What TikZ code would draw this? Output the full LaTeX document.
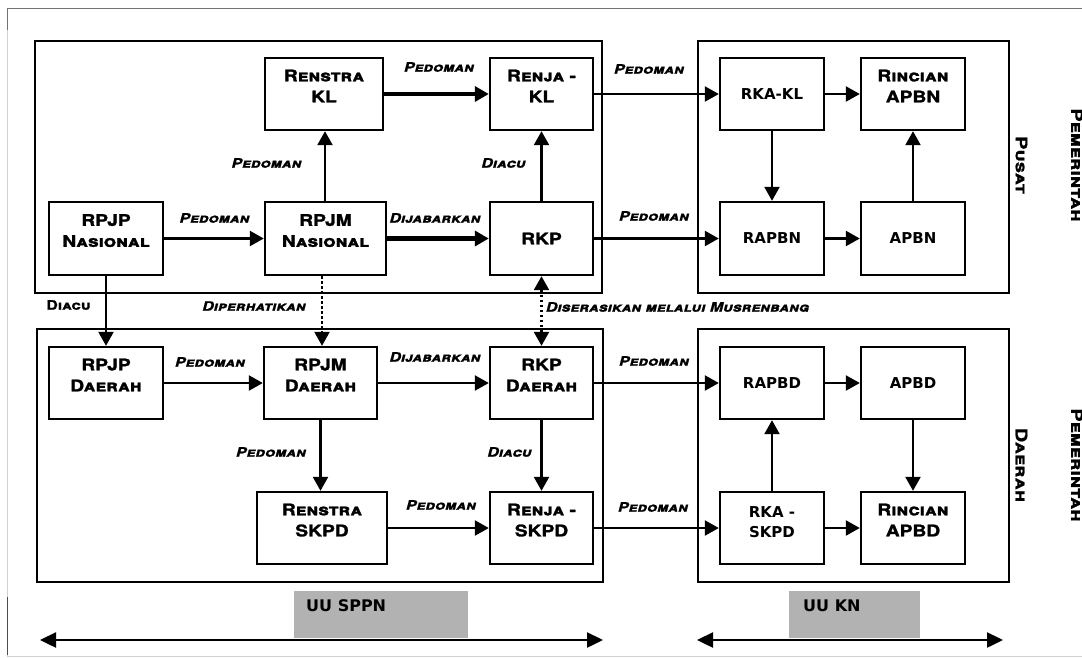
\documentclass[tikz,border=0pt]{standalone}
\usepackage{fontspec}
\usetikzlibrary{arrows.meta}
\newfontfamily\cop[FakeStretch=1.2,FakeBold=1.6,Letters=SmallCaps]{TeX Gyre Heros}
\newfontfamily\lblfont[FakeStretch=1.22,FakeBold=1,Letters=SmallCaps]{TeX Gyre Heros}
\newfontfamily\sidefont[FakeStretch=1.25,FakeBold=1,Letters=SmallCaps]{TeX Gyre Heros}
\newfontfamily\sansb{DejaVu Sans}
\tikzset{
  frame/.style={draw, line width=2.4pt},
  box/.style={draw, line width=2.4pt, inner sep=0pt, align=center, minimum height=72pt},
  cbox/.style={box, font=\cop\bfseries\fontsize{16}{21}\selectfont},
  sbox/.style={box, font=\sansb\bfseries\fontsize{15}{26}\selectfont},
  lbl/.style={font=\lblfont\bfseries\itshape\fontsize{13}{15}\selectfont, inner sep=0pt},
  lblup/.style={font=\lblfont\bfseries\fontsize{13}{15}\selectfont, inner sep=0pt},
  arr/.style={line width=2.4pt, -{Triangle[length=14pt,width=15pt]}},
  tarr/.style={arr, line width=4.5pt},
  dotarr/.style={arr, dash pattern=on 2.4pt off 2.6pt},
  darr/.style={line width=2.4pt, {Triangle[length=16pt,width=15pt]}-{Triangle[length=16pt,width=15pt]}},
  side/.style={rotate=-90, font=\sidefont\bfseries\fontsize{16}{18}\selectfont, inner sep=0pt},
  law/.style={fill=black!30, inner sep=0pt},
  lawtxt/.style={font=\sansb\bfseries\fontsize{16}{18}\selectfont, inner sep=0pt, anchor=west}
}
\begin{document}
\begin{tikzpicture}[x=1pt,y=-1pt]
\useasboundingbox (0,0) rectangle (1082,657);
% outer frame
\draw[black!18, line width=0.8pt] (7,8) -- (7,656) -- (1090,656);
\draw[black!55, line width=0.8pt] (1090,8) -- (7,8) -- (7,30);
\draw[black!70, line width=0.8pt] (7,597) -- (7,655);
% group frames
\draw[frame] (35,41) rectangle (602,293);
\draw[frame] (698,41) rectangle (1009,293);
\draw[frame] (37,329) rectangle (603,582);
\draw[frame] (698,329) rectangle (1009,582);
% top nodes
\node[cbox, minimum width=118pt] (renstrakl) at (324,94) {Renstra\\KL\\[-5pt]\mbox{}};
\node[cbox, minimum width=103pt] (renjakl) at (541.5,94) {Renja -\\KL\\[-5pt]\mbox{}};
\node[cbox, minimum width=114pt, minimum height=73pt] (rpjpn) at (106,238.5) {RPJP\\Nasional\\[-5pt]\mbox{}};
\node[cbox, minimum width=121pt, minimum height=73pt] (rpjmn) at (325.5,238.5) {RPJM\\Nasional\\[-5pt]\mbox{}};
\node[cbox, minimum width=103pt, minimum height=73pt] (rkp) at (541.5,238.5) {RKP};
\node[sbox, minimum width=104pt] (rkakl) at (772,94) {RKA-KL};
\node[cbox, minimum width=104pt] (rincapbn) at (913,94) {Rincian\\APBN\\[-5pt]\mbox{}};
\node[sbox, minimum width=104pt, minimum height=73pt] (rapbn) at (772,238.5) {RAPBN};
\node[sbox, minimum width=104pt, minimum height=73pt] (apbn) at (913,238.5) {APBN};
% bottom nodes
\node[cbox, minimum width=114pt] (rpjpd) at (106,383) {RPJP\\Daerah\\[-5pt]\mbox{}};
\node[cbox, minimum width=113pt] (rpjmd) at (320.5,383) {RPJM\\Daerah\\[-5pt]\mbox{}};
\node[cbox, minimum width=103pt] (rkpd) at (541.5,383) {RKP\\Daerah\\[-5pt]\mbox{}};
\node[sbox, minimum width=104pt] (rapbd) at (772,383) {RAPBD};
\node[sbox, minimum width=104pt] (apbd) at (913,383) {APBD};
\node[cbox, minimum width=130pt] (renstraskpd) at (322,528) {Renstra\\SKPD\\[-5pt]\mbox{}};
\node[cbox, minimum width=103pt] (renjaskpd) at (541.5,528) {Renja -\\SKPD\\[-5pt]\mbox{}};
\node[sbox, minimum width=104pt] (rkaskpd) at (772,528) {RKA -\\[-6pt]SKPD\\[-14pt]\mbox{}};
\node[cbox, minimum width=104pt] (rincapbd) at (913,528) {Rincian\\APBD\\[-5pt]\mbox{}};
% top connectors
\draw[arr] (rpjpn) -- (rpjmn);
\draw[arr] ([xshift=-0.5pt]rpjmn.north) -- ([xshift=-0.5pt]rpjmn.north |- renstrakl.south);
\draw[tarr] (renstrakl) -- (renjakl);
\draw[tarr] (rpjmn) -- (rkp);
\draw[arr] (rkp) -- (renjakl);
\draw[arr] (renjakl) -- (rkakl);
\draw[arr] (rkp) -- (rapbn);
\draw[arr] (rkakl) -- (rincapbn);
\draw[arr] (rkakl) -- (rapbn);
\draw[arr] (rapbn) -- (apbn);
\draw[arr] (apbn) -- (rincapbn);
% between levels
\draw[arr] (rpjpn) -- (rpjpd);
\draw[dotarr] ([xshift=-3.5pt]rpjmn.south) -- ([xshift=-3.5pt]rpjmn.south |- rpjmd.north);
\draw[dotarr, {Triangle[length=14pt,width=15pt]}-{Triangle[length=14pt,width=15pt]}] (rkp) -- (rkpd);
% bottom connectors
\draw[arr] (rpjpd) -- (rpjmd);
\draw[arr] (rpjmd) -- (rkpd);
\draw[arr] (rkpd) -- (rapbd);
\draw[arr] (rpjmd.south) -- (rpjmd.south |- renstraskpd.north);
\draw[arr] (rkpd) -- (renjaskpd);
\draw[arr] (renstraskpd) -- (renjaskpd);
\draw[arr] (renjaskpd) -- (rkaskpd);
\draw[arr] (rapbd) -- (apbd);
\draw[arr] (apbd) -- (rincapbd);
\draw[arr] (rkaskpd) -- (rapbd);
\draw[arr] (rkaskpd) -- (rincapbd);
% edge labels
\node[lbl] (l1) at (214.5,218) {Pedoman};
\node[lbl] (l2) at (266.5,163) {Pedoman};
\node[lbl] (l3) at (439,67) {Pedoman};
\node[lbl] (l4) at (503.5,163) {Diacu};
\node[lbl] (l5) at (435,218) {Dijabarkan};
\node[lbl] (l6) at (649,69) {Pedoman};
\node[lbl] (l7) at (654,216) {Pedoman};
\node[lblup] (l8) at (68.5,305) {Diacu};
\node[lbl] (l9) at (254,306) {Diperhatikan};
\node[lbl] (l10) at (677.5,307) {Diserasikan melalui Musrenbang};
\node[lbl] (l11) at (210,362) {Pedoman};
\node[lbl] (l12) at (435,357) {Dijabarkan};
\node[lbl] (l13) at (654,361) {Pedoman};
\node[lbl] (l14) at (271,452) {Pedoman};
\node[lbl] (l15) at (509.5,452) {Diacu};
\node[lbl] (l16) at (441,505) {Pedoman};
\node[lbl] (l17) at (653,507) {Pedoman};
% side labels
\node[side] (pusat) at (1021.5,165) {Pusat};
\node[side] (pem1) at (1077,165) {Pemerintah};
\node[side] (daerah) at (1021.5,465) {Daerah};
\node[side] (pem2) at (1077,465) {Pemerintah};
% laws
\node[law, minimum width=174pt, minimum height=47pt] (sppnbox) at (381,614.5) {};
\node[lawtxt] (sppn) at (306,606) {UU SPPN};
\node[law, minimum width=131pt, minimum height=47pt] (knbox) at (854.5,614.5) {};
\node[lawtxt] (kn) at (803,606) {UU KN};
\coordinate (s1) at (40,640);
\coordinate (s2) at (603,640);
\coordinate (k1) at (697,640);
\coordinate (k2) at (1003,640);
\draw[darr] (s1) -- (s2);
\draw[darr] (k1) -- (k2);
\end{tikzpicture}
\end{document}
